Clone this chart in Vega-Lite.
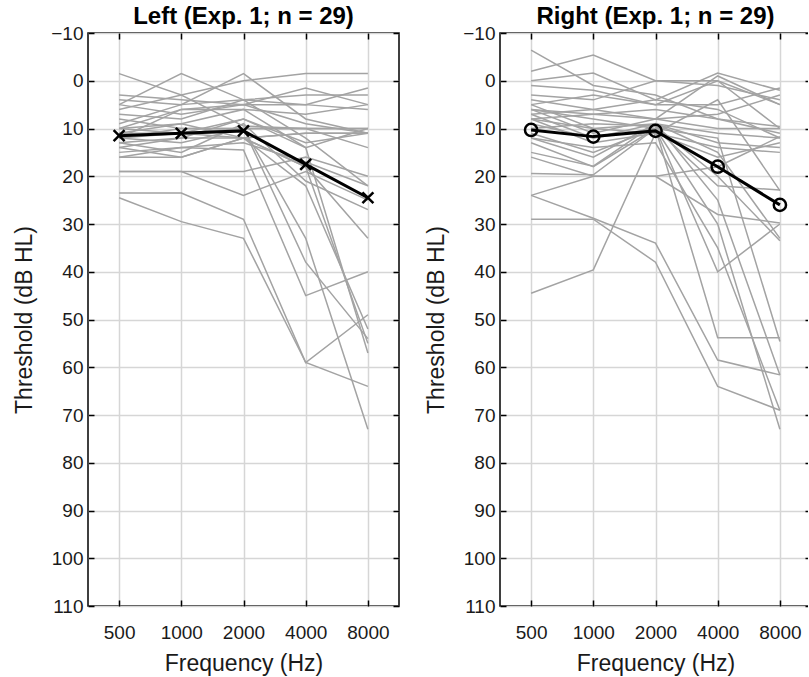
{
"$schema":"https://vega.github.io/schema/vega-lite/v6.json",
"padding":{"left":13,"top":4,"right":-5,"bottom":0},
"background":"white",
"config":{
"view":{"stroke":"black","strokeWidth":1.5},
"axis":{"labelFont":"Liberation Sans","titleFont":"Liberation Sans","labelFontSize":19,"titleFontSize":23,"titleFontWeight":"normal","labelColor":"#1a1a1a","titleColor":"#1a1a1a","tickColor":"black","tickWidth":1.5,"tickSize":6,"gridColor":"#d6d6d6","gridWidth":1.5,"domain":false},
"axisX":{"labelPadding":17,"titlePadding":10},
"axisY":{"labelPadding":5,"titlePadding":14},
"title":{"font":"Liberation Sans","fontSize":24,"fontWeight":"bold","color":"black","offset":-5,"frame":"group"}
},
"datasets":{
"mean":[
{"p":"L","f":500,"t":11.5},{"p":"L","f":1000,"t":11},{"p":"L","f":2000,"t":10.5},{"p":"L","f":4000,"t":17.5},{"p":"L","f":8000,"t":24.5},
{"p":"R","f":500,"t":10.3},{"p":"R","f":1000,"t":11.7},{"p":"R","f":2000,"t":10.5},{"p":"R","f":4000,"t":18},{"p":"R","f":8000,"t":26}
],
"ind":[
{"p":"L","s":1,"f":500,"t":-1.5},{"p":"L","s":1,"f":1000,"t":3},{"p":"L","s":1,"f":2000,"t":0},{"p":"L","s":1,"f":4000,"t":-1.5},{"p":"L","s":1,"f":8000,"t":-1.5},
{"p":"L","s":2,"f":500,"t":5},{"p":"L","s":2,"f":1000,"t":-1.5},{"p":"L","s":2,"f":2000,"t":4},{"p":"L","s":2,"f":4000,"t":5},{"p":"L","s":2,"f":8000,"t":1.5},
{"p":"L","s":3,"f":500,"t":4},{"p":"L","s":3,"f":1000,"t":5},{"p":"L","s":3,"f":2000,"t":-1.5},{"p":"L","s":3,"f":4000,"t":8},{"p":"L","s":3,"f":8000,"t":11},
{"p":"L","s":4,"f":500,"t":3},{"p":"L","s":4,"f":1000,"t":4},{"p":"L","s":4,"f":2000,"t":5},{"p":"L","s":4,"f":4000,"t":1.5},{"p":"L","s":4,"f":8000,"t":5},
{"p":"L","s":5,"f":500,"t":5},{"p":"L","s":5,"f":1000,"t":7},{"p":"L","s":5,"f":2000,"t":5},{"p":"L","s":5,"f":4000,"t":5},{"p":"L","s":5,"f":8000,"t":6},
{"p":"L","s":6,"f":500,"t":6},{"p":"L","s":6,"f":1000,"t":3},{"p":"L","s":6,"f":2000,"t":9.5},{"p":"L","s":6,"f":4000,"t":10},{"p":"L","s":6,"f":8000,"t":14},
{"p":"L","s":7,"f":500,"t":7},{"p":"L","s":7,"f":1000,"t":8},{"p":"L","s":7,"f":2000,"t":4},{"p":"L","s":7,"f":4000,"t":12},{"p":"L","s":7,"f":8000,"t":22},
{"p":"L","s":8,"f":500,"t":8},{"p":"L","s":8,"f":1000,"t":10},{"p":"L","s":8,"f":2000,"t":10},{"p":"L","s":8,"f":4000,"t":10},{"p":"L","s":8,"f":8000,"t":10},
{"p":"L","s":9,"f":500,"t":12},{"p":"L","s":9,"f":1000,"t":6},{"p":"L","s":9,"f":2000,"t":5},{"p":"L","s":9,"f":4000,"t":9},{"p":"L","s":9,"f":8000,"t":11},
{"p":"L","s":10,"f":500,"t":10},{"p":"L","s":10,"f":1000,"t":11},{"p":"L","s":10,"f":2000,"t":8},{"p":"L","s":10,"f":4000,"t":14},{"p":"L","s":10,"f":8000,"t":10},
{"p":"L","s":11,"f":500,"t":11},{"p":"L","s":11,"f":1000,"t":9},{"p":"L","s":11,"f":2000,"t":6},{"p":"L","s":11,"f":4000,"t":14},{"p":"L","s":11,"f":8000,"t":57},
{"p":"L","s":12,"f":500,"t":12},{"p":"L","s":12,"f":1000,"t":13},{"p":"L","s":12,"f":2000,"t":10},{"p":"L","s":12,"f":4000,"t":33},{"p":"L","s":12,"f":8000,"t":73},
{"p":"L","s":13,"f":500,"t":13},{"p":"L","s":13,"f":1000,"t":12},{"p":"L","s":13,"f":2000,"t":12},{"p":"L","s":13,"f":4000,"t":18},{"p":"L","s":13,"f":8000,"t":55},
{"p":"L","s":14,"f":500,"t":14},{"p":"L","s":14,"f":1000,"t":16},{"p":"L","s":14,"f":2000,"t":12},{"p":"L","s":14,"f":4000,"t":22},{"p":"L","s":14,"f":8000,"t":52},
{"p":"L","s":15,"f":500,"t":15},{"p":"L","s":15,"f":1000,"t":14},{"p":"L","s":15,"f":2000,"t":14.5},{"p":"L","s":15,"f":4000,"t":45},{"p":"L","s":15,"f":8000,"t":40},
{"p":"L","s":16,"f":500,"t":16},{"p":"L","s":16,"f":1000,"t":16},{"p":"L","s":16,"f":2000,"t":12},{"p":"L","s":16,"f":4000,"t":18},{"p":"L","s":16,"f":8000,"t":33},
{"p":"L","s":17,"f":500,"t":13},{"p":"L","s":17,"f":1000,"t":15},{"p":"L","s":17,"f":2000,"t":9},{"p":"L","s":17,"f":4000,"t":21},{"p":"L","s":17,"f":8000,"t":27},
{"p":"L","s":18,"f":500,"t":19},{"p":"L","s":18,"f":1000,"t":19},{"p":"L","s":18,"f":2000,"t":24},{"p":"L","s":18,"f":4000,"t":19},{"p":"L","s":18,"f":8000,"t":25},
{"p":"L","s":19,"f":500,"t":19},{"p":"L","s":19,"f":1000,"t":19},{"p":"L","s":19,"f":2000,"t":19},{"p":"L","s":19,"f":4000,"t":16},{"p":"L","s":19,"f":8000,"t":20},
{"p":"L","s":20,"f":500,"t":23.5},{"p":"L","s":20,"f":1000,"t":23.5},{"p":"L","s":20,"f":2000,"t":29},{"p":"L","s":20,"f":4000,"t":59},{"p":"L","s":20,"f":8000,"t":49},
{"p":"L","s":21,"f":500,"t":24.5},{"p":"L","s":21,"f":1000,"t":29.5},{"p":"L","s":21,"f":2000,"t":33},{"p":"L","s":21,"f":4000,"t":59},{"p":"L","s":21,"f":8000,"t":64},
{"p":"L","s":22,"f":500,"t":12},{"p":"L","s":22,"f":1000,"t":11},{"p":"L","s":22,"f":2000,"t":10},{"p":"L","s":22,"f":4000,"t":38},{"p":"L","s":22,"f":8000,"t":54},
{"p":"L","s":23,"f":500,"t":10},{"p":"L","s":23,"f":1000,"t":9},{"p":"L","s":23,"f":2000,"t":12},{"p":"L","s":23,"f":4000,"t":11},{"p":"L","s":23,"f":8000,"t":11},
{"p":"L","s":24,"f":500,"t":12},{"p":"L","s":24,"f":1000,"t":10},{"p":"L","s":24,"f":2000,"t":10},{"p":"L","s":24,"f":4000,"t":10},{"p":"L","s":24,"f":8000,"t":10},
{"p":"L","s":25,"f":500,"t":14},{"p":"L","s":25,"f":1000,"t":12},{"p":"L","s":25,"f":2000,"t":8},{"p":"L","s":25,"f":4000,"t":13},{"p":"L","s":25,"f":8000,"t":11},
{"p":"L","s":26,"f":500,"t":10},{"p":"L","s":26,"f":1000,"t":6},{"p":"L","s":26,"f":2000,"t":6},{"p":"L","s":26,"f":4000,"t":7},{"p":"L","s":26,"f":8000,"t":5},
{"p":"L","s":27,"f":500,"t":16},{"p":"L","s":27,"f":1000,"t":14},{"p":"L","s":27,"f":2000,"t":13},{"p":"L","s":27,"f":4000,"t":17},{"p":"L","s":27,"f":8000,"t":22},
{"p":"L","s":28,"f":500,"t":9},{"p":"L","s":28,"f":1000,"t":5},{"p":"L","s":28,"f":2000,"t":4},{"p":"L","s":28,"f":4000,"t":3},{"p":"L","s":28,"f":8000,"t":3},
{"p":"L","s":29,"f":500,"t":11},{"p":"L","s":29,"f":1000,"t":11},{"p":"L","s":29,"f":2000,"t":12},{"p":"L","s":29,"f":4000,"t":11},{"p":"L","s":29,"f":8000,"t":11},
{"p":"R","s":1,"f":500,"t":-6.4},{"p":"R","s":1,"f":1000,"t":1},{"p":"R","s":1,"f":2000,"t":3},{"p":"R","s":1,"f":4000,"t":8},{"p":"R","s":1,"f":8000,"t":11},
{"p":"R","s":2,"f":500,"t":-2},{"p":"R","s":2,"f":1000,"t":-5.4},{"p":"R","s":2,"f":2000,"t":0},{"p":"R","s":2,"f":4000,"t":0},{"p":"R","s":2,"f":8000,"t":5},
{"p":"R","s":3,"f":500,"t":0},{"p":"R","s":3,"f":1000,"t":-1.6},{"p":"R","s":3,"f":2000,"t":4},{"p":"R","s":3,"f":4000,"t":-1.6},{"p":"R","s":3,"f":8000,"t":2},
{"p":"R","s":4,"f":500,"t":1},{"p":"R","s":4,"f":1000,"t":2},{"p":"R","s":4,"f":2000,"t":5},{"p":"R","s":4,"f":4000,"t":0},{"p":"R","s":4,"f":8000,"t":10},
{"p":"R","s":5,"f":500,"t":3},{"p":"R","s":5,"f":1000,"t":4},{"p":"R","s":5,"f":2000,"t":0},{"p":"R","s":5,"f":4000,"t":1},{"p":"R","s":5,"f":8000,"t":4},
{"p":"R","s":6,"f":500,"t":4},{"p":"R","s":6,"f":1000,"t":6},{"p":"R","s":6,"f":2000,"t":8},{"p":"R","s":6,"f":4000,"t":-1},{"p":"R","s":6,"f":8000,"t":5},
{"p":"R","s":7,"f":500,"t":5},{"p":"R","s":7,"f":1000,"t":3},{"p":"R","s":7,"f":2000,"t":5},{"p":"R","s":7,"f":4000,"t":5},{"p":"R","s":7,"f":8000,"t":1.5},
{"p":"R","s":8,"f":500,"t":6},{"p":"R","s":8,"f":1000,"t":8},{"p":"R","s":8,"f":2000,"t":10},{"p":"R","s":8,"f":4000,"t":12},{"p":"R","s":8,"f":8000,"t":54.6},
{"p":"R","s":9,"f":500,"t":7},{"p":"R","s":9,"f":1000,"t":6},{"p":"R","s":9,"f":2000,"t":4},{"p":"R","s":9,"f":4000,"t":6},{"p":"R","s":9,"f":8000,"t":12},
{"p":"R","s":10,"f":500,"t":8},{"p":"R","s":10,"f":1000,"t":10},{"p":"R","s":10,"f":2000,"t":11},{"p":"R","s":10,"f":4000,"t":4},{"p":"R","s":10,"f":8000,"t":23},
{"p":"R","s":11,"f":500,"t":9},{"p":"R","s":11,"f":1000,"t":12},{"p":"R","s":11,"f":2000,"t":10},{"p":"R","s":11,"f":4000,"t":40},{"p":"R","s":11,"f":8000,"t":30},
{"p":"R","s":12,"f":500,"t":10},{"p":"R","s":12,"f":1000,"t":9},{"p":"R","s":12,"f":2000,"t":9.5},{"p":"R","s":12,"f":4000,"t":20},{"p":"R","s":12,"f":8000,"t":33.5},
{"p":"R","s":13,"f":500,"t":11},{"p":"R","s":13,"f":1000,"t":15},{"p":"R","s":13,"f":2000,"t":10},{"p":"R","s":13,"f":4000,"t":30},{"p":"R","s":13,"f":8000,"t":73},
{"p":"R","s":14,"f":500,"t":12},{"p":"R","s":14,"f":1000,"t":14},{"p":"R","s":14,"f":2000,"t":13},{"p":"R","s":14,"f":4000,"t":35},{"p":"R","s":14,"f":8000,"t":69},
{"p":"R","s":15,"f":500,"t":13},{"p":"R","s":15,"f":1000,"t":18},{"p":"R","s":15,"f":2000,"t":10},{"p":"R","s":15,"f":4000,"t":53.8},{"p":"R","s":15,"f":8000,"t":53.8},
{"p":"R","s":16,"f":500,"t":12},{"p":"R","s":16,"f":1000,"t":16},{"p":"R","s":16,"f":2000,"t":9},{"p":"R","s":16,"f":4000,"t":25},{"p":"R","s":16,"f":8000,"t":61.6},
{"p":"R","s":17,"f":500,"t":15},{"p":"R","s":17,"f":1000,"t":17.9},{"p":"R","s":17,"f":2000,"t":9},{"p":"R","s":17,"f":4000,"t":15},{"p":"R","s":17,"f":8000,"t":33},
{"p":"R","s":18,"f":500,"t":16},{"p":"R","s":18,"f":1000,"t":20},{"p":"R","s":18,"f":2000,"t":20},{"p":"R","s":18,"f":4000,"t":18},{"p":"R","s":18,"f":8000,"t":11.7},
{"p":"R","s":19,"f":500,"t":19.4},{"p":"R","s":19,"f":1000,"t":19.7},{"p":"R","s":19,"f":2000,"t":10},{"p":"R","s":19,"f":4000,"t":22},{"p":"R","s":19,"f":8000,"t":22.9},
{"p":"R","s":20,"f":500,"t":24},{"p":"R","s":20,"f":1000,"t":20},{"p":"R","s":20,"f":2000,"t":20},{"p":"R","s":20,"f":4000,"t":28},{"p":"R","s":20,"f":8000,"t":29.8},
{"p":"R","s":21,"f":500,"t":24},{"p":"R","s":21,"f":1000,"t":28.8},{"p":"R","s":21,"f":2000,"t":34},{"p":"R","s":21,"f":4000,"t":58.5},{"p":"R","s":21,"f":8000,"t":61.6},
{"p":"R","s":22,"f":500,"t":29},{"p":"R","s":22,"f":1000,"t":29},{"p":"R","s":22,"f":2000,"t":38},{"p":"R","s":22,"f":4000,"t":64},{"p":"R","s":22,"f":8000,"t":69},
{"p":"R","s":23,"f":500,"t":44.5},{"p":"R","s":23,"f":1000,"t":39.6},{"p":"R","s":23,"f":2000,"t":11},{"p":"R","s":23,"f":4000,"t":16},{"p":"R","s":23,"f":8000,"t":13},
{"p":"R","s":24,"f":500,"t":6},{"p":"R","s":24,"f":1000,"t":11},{"p":"R","s":24,"f":2000,"t":8},{"p":"R","s":24,"f":4000,"t":10},{"p":"R","s":24,"f":8000,"t":10},
{"p":"R","s":25,"f":500,"t":8},{"p":"R","s":25,"f":1000,"t":7},{"p":"R","s":25,"f":2000,"t":6},{"p":"R","s":25,"f":4000,"t":8},{"p":"R","s":25,"f":8000,"t":9.6},
{"p":"R","s":26,"f":500,"t":7},{"p":"R","s":26,"f":1000,"t":12},{"p":"R","s":26,"f":2000,"t":9},{"p":"R","s":26,"f":4000,"t":13},{"p":"R","s":26,"f":8000,"t":14},
{"p":"R","s":27,"f":500,"t":8},{"p":"R","s":27,"f":1000,"t":13},{"p":"R","s":27,"f":2000,"t":11},{"p":"R","s":27,"f":4000,"t":14},{"p":"R","s":27,"f":8000,"t":15},
{"p":"R","s":28,"f":500,"t":5},{"p":"R","s":28,"f":1000,"t":10},{"p":"R","s":28,"f":2000,"t":9},{"p":"R","s":28,"f":4000,"t":11},{"p":"R","s":28,"f":8000,"t":12},
{"p":"R","s":29,"f":500,"t":6},{"p":"R","s":29,"f":1000,"t":7},{"p":"R","s":29,"f":2000,"t":8},{"p":"R","s":29,"f":4000,"t":7},{"p":"R","s":29,"f":8000,"t":3}
]
},
"spacing":24,
"hconcat":[
{
"width":311,"height":573,
"title":{"text":"Left (Exp. 1; n = 29)"},
"layer":[
{"data":{"name":"ind"},"transform":[{"filter":"datum.p == 'L'"}],
"mark":{"type":"line","color":"#a3a3a3","strokeWidth":1.5},
"encoding":{
"x":{"field":"f","type":"quantitative","scale":{"type":"log","domain":[353.553,11313.708],"nice":false},"axis":{"values":[500,1000,2000,4000,8000],"format":"d","ticks":false,"title":"Frequency (Hz)"}},
"y":{"field":"t","type":"quantitative","scale":{"domain":[-10,110],"reverse":true,"nice":false,"zero":false},"axis":{"values":[-10,0,10,20,30,40,50,60,70,80,90,100,110],"ticks":false,"title":"Threshold (dB HL)"}},
"detail":{"field":"s"}}},
{"data":{"name":"mean"},"transform":[{"filter":"datum.p == 'L'"}],
"mark":{"type":"line","color":"black","strokeWidth":3},
"encoding":{"x":{"field":"f","type":"quantitative","axis":null},"y":{"field":"t","type":"quantitative","axis":null}}},
{"data":{"name":"mean"},"transform":[{"filter":"datum.p == 'L'"}],
"mark":{"type":"point","shape":"M-1,-1L1,1M-1,1L1,-1","filled":false,"stroke":"black","strokeWidth":2.5,"size":120,"opacity":1},
"encoding":{"x":{"field":"f","type":"quantitative","axis":null},"y":{"field":"t","type":"quantitative","axis":null}}},
{"data":{"name":"mean"},"transform":[{"filter":"datum.p == 'L'"}],
"mark":{"type":"point","opacity":0},
"encoding":{"x":{"field":"f","type":"quantitative","axis":{"orient":"top","offset":-6,"values":[500,1000,2000,4000,8000],"labels":false,"grid":false,"title":null}},"y":{"field":"t","type":"quantitative","axis":{"orient":"right","offset":-6,"values":[-10,0,10,20,30,40,50,60,70,80,90,100,110],"labels":false,"grid":false,"title":null}}}},
{"data":{"name":"mean"},"transform":[{"filter":"datum.p == 'L'"}],
"mark":{"type":"point","opacity":0},
"encoding":{"x":{"field":"f","type":"quantitative","axis":{"orient":"bottom","offset":-6,"values":[500,1000,2000,4000,8000],"labels":false,"grid":false,"title":null}},"y":{"field":"t","type":"quantitative","axis":{"orient":"left","offset":-6,"values":[-10,0,10,20,30,40,50,60,70,80,90,100,110],"labels":false,"grid":false,"title":null}}}}
],
"resolve":{"axis":{"x":"independent","y":"independent"}}
},
{
"width":311,"height":573,
"title":{"text":"Right (Exp. 1; n = 29)"},
"layer":[
{"data":{"name":"ind"},"transform":[{"filter":"datum.p == 'R'"}],
"mark":{"type":"line","color":"#a3a3a3","strokeWidth":1.5},
"encoding":{
"x":{"field":"f","type":"quantitative","scale":{"type":"log","domain":[353.553,11313.708],"nice":false},"axis":{"values":[500,1000,2000,4000,8000],"format":"d","ticks":false,"title":"Frequency (Hz)"}},
"y":{"field":"t","type":"quantitative","scale":{"domain":[-10,110],"reverse":true,"nice":false,"zero":false},"axis":{"values":[-10,0,10,20,30,40,50,60,70,80,90,100,110],"ticks":false,"title":"Threshold (dB HL)"}},
"detail":{"field":"s"}}},
{"data":{"name":"mean"},"transform":[{"filter":"datum.p == 'R'"}],
"mark":{"type":"line","color":"black","strokeWidth":3},
"encoding":{"x":{"field":"f","type":"quantitative","axis":null},"y":{"field":"t","type":"quantitative","axis":null}}},
{"data":{"name":"mean"},"transform":[{"filter":"datum.p == 'R'"}],
"mark":{"type":"point","shape":"circle","filled":false,"stroke":"black","strokeWidth":2.5,"size":150,"opacity":1},
"encoding":{"x":{"field":"f","type":"quantitative","axis":null},"y":{"field":"t","type":"quantitative","axis":null}}},
{"data":{"name":"mean"},"transform":[{"filter":"datum.p == 'R'"}],
"mark":{"type":"point","opacity":0},
"encoding":{"x":{"field":"f","type":"quantitative","axis":{"orient":"top","offset":-6,"values":[500,1000,2000,4000,8000],"labels":false,"grid":false,"title":null}},"y":{"field":"t","type":"quantitative","axis":{"orient":"right","offset":-6,"values":[-10,0,10,20,30,40,50,60,70,80,90,100,110],"labels":false,"grid":false,"title":null}}}},
{"data":{"name":"mean"},"transform":[{"filter":"datum.p == 'R'"}],
"mark":{"type":"point","opacity":0},
"encoding":{"x":{"field":"f","type":"quantitative","axis":{"orient":"bottom","offset":-6,"values":[500,1000,2000,4000,8000],"labels":false,"grid":false,"title":null}},"y":{"field":"t","type":"quantitative","axis":{"orient":"left","offset":-6,"values":[-10,0,10,20,30,40,50,60,70,80,90,100,110],"labels":false,"grid":false,"title":null}}}}
],
"resolve":{"axis":{"x":"independent","y":"independent"}}
}
]
}
